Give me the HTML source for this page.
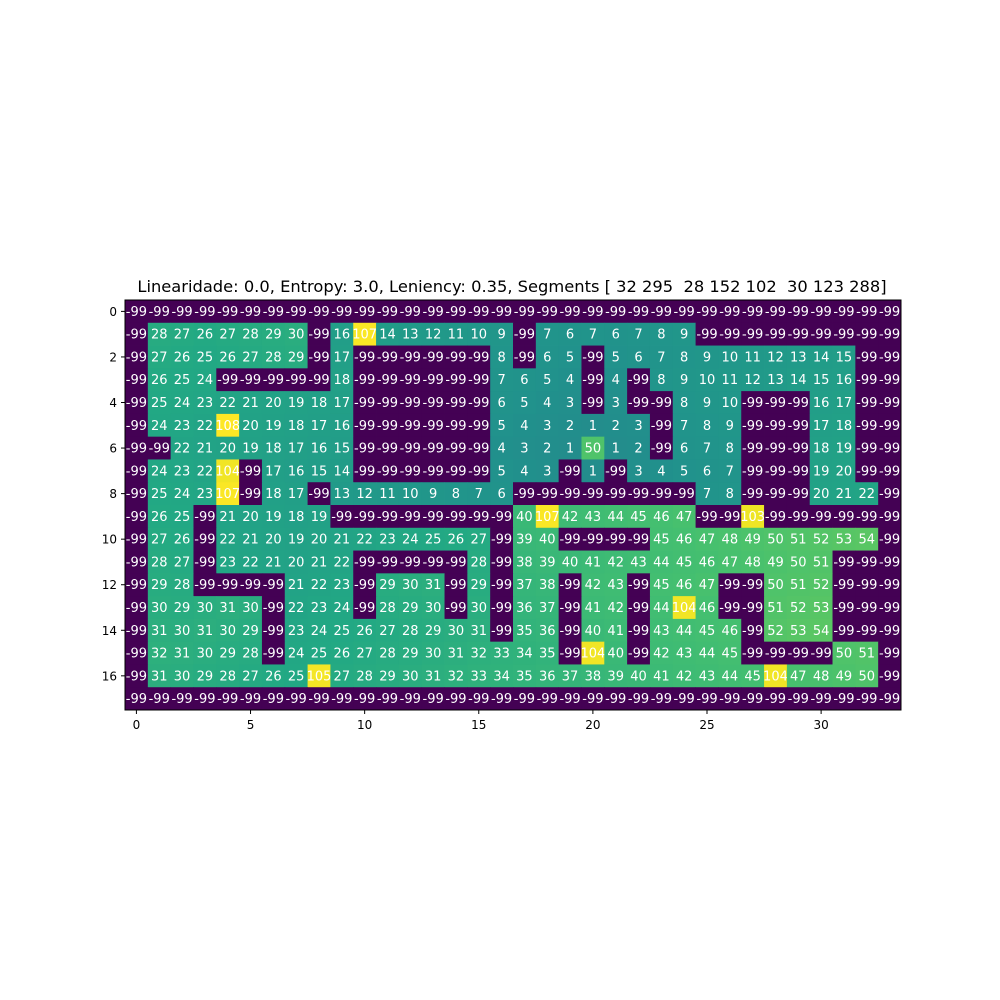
<!DOCTYPE html>
<html><head><meta charset="utf-8"><style>
html,body{margin:0;padding:0;background:#fff;}
svg{display:block;font-family:"DejaVu Sans","Liberation Sans",sans-serif;}
#title{white-space:pre;}
</style></head><body>
<svg id="chart" width="1000" height="1000" viewBox="0 0 1000 1000" xmlns="http://www.w3.org/2000/svg">
<text id="title" xml:space="preserve" x="512" y="292" text-anchor="middle" font-size="16.3" fill="#000">Linearidade: 0.0, Entropy: 3.0, Leniency: 0.35, Segments [ 32 295  28 152 102  30 123 288]</text>
<g id="cells"></g>
<g id="axes"></g>
</svg>
<script>
const W = -99;
const grid = [
[W,W,W,W,W,W,W,W,W,W,W,W,W,W,W,W,W,W,W,W,W,W,W,W,W,W,W,W,W,W,W,W,W,W],
[W,28,27,26,27,28,29,30,W,16,107,14,13,12,11,10,9,W,7,6,7,6,7,8,9,W,W,W,W,W,W,W,W,W],
[W,27,26,25,26,27,28,29,W,17,W,W,W,W,W,W,8,W,6,5,W,5,6,7,8,9,10,11,12,13,14,15,W,W],
[W,26,25,24,W,W,W,W,W,18,W,W,W,W,W,W,7,6,5,4,W,4,W,8,9,10,11,12,13,14,15,16,W,W],
[W,25,24,23,22,21,20,19,18,17,W,W,W,W,W,W,6,5,4,3,W,3,W,W,8,9,10,W,W,W,16,17,W,W],
[W,24,23,22,108,20,19,18,17,16,W,W,W,W,W,W,5,4,3,2,1,2,3,W,7,8,9,W,W,W,17,18,W,W],
[W,W,22,21,20,19,18,17,16,15,W,W,W,W,W,W,4,3,2,1,50,1,2,W,6,7,8,W,W,W,18,19,W,W],
[W,24,23,22,104,W,17,16,15,14,W,W,W,W,W,W,5,4,3,W,1,W,3,4,5,6,7,W,W,W,19,20,W,W],
[W,25,24,23,107,W,18,17,W,13,12,11,10,9,8,7,6,W,W,W,W,W,W,W,W,7,8,W,W,W,20,21,22,W],
[W,26,25,W,21,20,19,18,19,W,W,W,W,W,W,W,W,40,107,42,43,44,45,46,47,W,W,103,W,W,W,W,W,W],
[W,27,26,W,22,21,20,19,20,21,22,23,24,25,26,27,W,39,40,W,W,W,W,45,46,47,48,49,50,51,52,53,54,W],
[W,28,27,W,23,22,21,20,21,22,W,W,W,W,W,28,W,38,39,40,41,42,43,44,45,46,47,48,49,50,51,W,W,W],
[W,29,28,W,W,W,W,21,22,23,W,29,30,31,W,29,W,37,38,W,42,43,W,45,46,47,W,W,50,51,52,W,W,W],
[W,30,29,30,31,30,W,22,23,24,W,28,29,30,W,30,W,36,37,W,41,42,W,44,104,46,W,W,51,52,53,W,W,W],
[W,31,30,31,30,29,W,23,24,25,26,27,28,29,30,31,W,35,36,W,40,41,W,43,44,45,46,W,52,53,54,W,W,W],
[W,32,31,30,29,28,W,24,25,26,27,28,29,30,31,32,33,34,35,W,104,40,W,42,43,44,45,W,W,W,W,50,51,W],
[W,31,30,29,28,27,26,25,105,27,28,29,30,31,32,33,34,35,36,37,38,39,40,41,42,43,44,45,104,47,48,49,50,W],
[W,W,W,W,W,W,W,W,W,W,W,W,W,W,W,W,W,W,W,W,W,W,W,W,W,W,W,W,W,W,W,W,W,W]
];
const xTicks = [0,5,10,15,20,25,30];
const yTicks = [0,2,4,6,8,10,12,14,16];

const X0=125, X1=901, Y0=300, Y1=710;
const nR=grid.length, nC=grid[0].length;
const cw=(X1-X0)/nC, ch=(Y1-Y0)/nR;
const xs=c=>X0+c*cw, ys=r=>Y0+r*ch;
let vmin=Infinity,vmax=-Infinity;
grid.forEach(r=>r.forEach(v=>{vmin=Math.min(vmin,v);vmax=Math.max(vmax,v);}));
const stops=["#440154","#482475","#414487","#355f8d","#2a788e","#21918c","#22a884","#44bf70","#7ad151","#bddf26","#fde725"];
function hx(h){return [1,3,5].map(i=>parseInt(h.substr(i,2),16));}
function viridis(t){t=Math.max(0,Math.min(1,t));const p=t*10,i=Math.min(9,Math.floor(p)),f=p-i;const a=hx(stops[i]),b=hx(stops[i+1]);return "rgb("+a.map((x,k)=>Math.round(x+(b[k]-x)*f)).join(",")+")";}
const NS="http://www.w3.org/2000/svg";
const cells=document.getElementById('cells');
for(let r=0;r<nR;r++)for(let c=0;c<nC;c++){
  const v=grid[r][c];
  const rect=document.createElementNS(NS,'rect');
  
  
  rect.setAttribute('x',xs(c));rect.setAttribute('y',ys(r));
  rect.setAttribute('width',cw+0.4);rect.setAttribute('height',ch+0.4);
  rect.setAttribute('fill',viridis((v-vmin)/(vmax-vmin)));
  cells.appendChild(rect);
  const t=document.createElementNS(NS,'text');
  
  
  t.setAttribute('x',xs(c)+cw/2);t.setAttribute('y',ys(r)+ch/2+4.5);
  t.setAttribute('text-anchor','middle');t.setAttribute('font-size','13');t.setAttribute('fill','#fff');
  t.textContent=v;
  cells.appendChild(t);
}
const axes=document.getElementById('axes');
const frame=document.createElementNS(NS,'rect');


frame.setAttribute('x',X0);frame.setAttribute('y',Y0);frame.setAttribute('width',X1-X0);frame.setAttribute('height',Y1-Y0);
frame.setAttribute('fill','none');frame.setAttribute('stroke','#000');frame.setAttribute('stroke-width','1');
axes.appendChild(frame);
xTicks.forEach(v=>{
  const x=xs(v)+cw/2;
  const l=document.createElementNS(NS,'line');
  
  
  l.setAttribute('x1',x);l.setAttribute('x2',x);l.setAttribute('y1',Y1);l.setAttribute('y2',Y1+4);l.setAttribute('stroke','#000');
  axes.appendChild(l);
  const t=document.createElementNS(NS,'text');
  
  
  t.setAttribute('x',x);t.setAttribute('y',Y1+19);t.setAttribute('text-anchor','middle');t.setAttribute('font-size','12');
  t.textContent=v;axes.appendChild(t);
});
yTicks.forEach(v=>{
  const y=ys(v)+ch/2;
  const l=document.createElementNS(NS,'line');
  
  
  l.setAttribute('x1',X0-4);l.setAttribute('x2',X0);l.setAttribute('y1',y);l.setAttribute('y2',y);l.setAttribute('stroke','#000');
  axes.appendChild(l);
  const t=document.createElementNS(NS,'text');
  
  
  t.setAttribute('x',X0-8);t.setAttribute('y',y+4.5);t.setAttribute('text-anchor','end');t.setAttribute('font-size','12');
  t.textContent=v;axes.appendChild(t);
});
</script>
</body></html>
